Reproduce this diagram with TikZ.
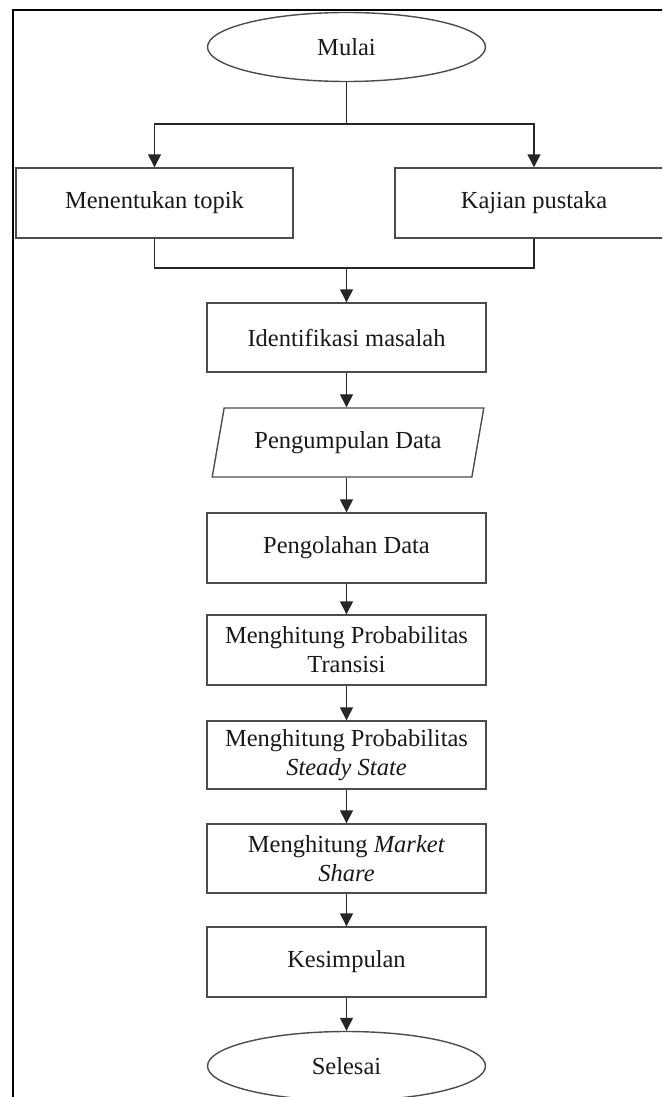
\documentclass[tikz,border=0pt]{standalone}
\usepackage{fontspec}
\setmainfont{Liberation Serif}
\usetikzlibrary{shapes.geometric,arrows.meta}
\begin{document}
\begin{tikzpicture}[x=1pt,y=-1pt,
  every node/.style={font=\fontsize{24.5}{29}\selectfont, text=black!90},
  procbox/.style={draw=black!70, line width=1.4pt, rectangle, minimum width=279pt, minimum height=69pt, inner sep=0pt, align=center},
  term/.style={draw=black!70, line width=1.4pt, ellipse, minimum width=278pt, minimum height=69pt, inner sep=0pt},
  iobox/.style={draw=black!70, line width=1.4pt, trapezium, trapezium left angle=68, trapezium right angle=112, trapezium stretches=true, minimum width=272pt, minimum height=69pt, inner sep=0pt},
  link/.style={draw=black!85, line width=1.4pt},
  arr/.style={link, -{Triangle[length=13pt,width=13pt]}}
]
\useasboundingbox (0,0) rectangle (662,1097);
\clip (0,0) rectangle (662,1097);
\fill[white] (0,0) rectangle (662,1097);
\draw[line width=2pt] (13,1100) -- (13,10) -- (670,10);

\node[term] (start) at (346.5,47) {Mulai};
\node[procbox, minimum width=277pt, minimum height=70pt] (topik) at (154.5,203) {Menentukan topik};
\node[procbox, minimum width=278pt, minimum height=70pt] (pustaka) at (534,203) {Kajian pustaka};
\node[procbox] (ident) at (346.5,337.5) {Identifikasi masalah};
\node[iobox] (kumpul) at (348,442.5) {Pengumpulan Data};
\node[procbox, minimum height=70pt] (olah) at (346.5,548) {Pengolahan Data};
\node[procbox, minimum height=70pt] (transisi) at (346.5,650) {Menghitung Probabilitas\\Transisi};
\node[procbox, minimum height=68pt] (steady) at (346.5,755) {Menghitung Probabilitas\\\textit{Steady State}};
\node[procbox] (market) at (346.5,858.5) {Menghitung \textit{Market}\\\textit{Share}};
\node[procbox, minimum height=70pt] (simpul) at (346.5,962) {Kesimpulan};
\node[term] (end) at (346.5,1066) {Selesai};

\coordinate (split) at (346.5,124);
\coordinate (merge) at (346.5,268);
\draw[link] (start.south) -- (split);
\draw[arr] (split) -| (topik.north);
\draw[arr] (split) -| (pustaka.north);
\draw[link] (topik.south) |- (merge);
\draw[link] (pustaka.south) |- (merge);
\draw[arr] (merge) -- (ident.north);
\draw[arr] (ident.south) -- (ident.south |- kumpul.north);
\draw[arr] (ident.south |- kumpul.south) -- (olah.north);
\draw[arr] (olah.south) -- (transisi.north);
\draw[arr] (transisi.south) -- (steady.north);
\draw[arr] (steady.south) -- (market.north);
\draw[arr] (market.south) -- (simpul.north);
\draw[arr] (simpul.south) -- (end.north);
\end{tikzpicture}
\end{document}
